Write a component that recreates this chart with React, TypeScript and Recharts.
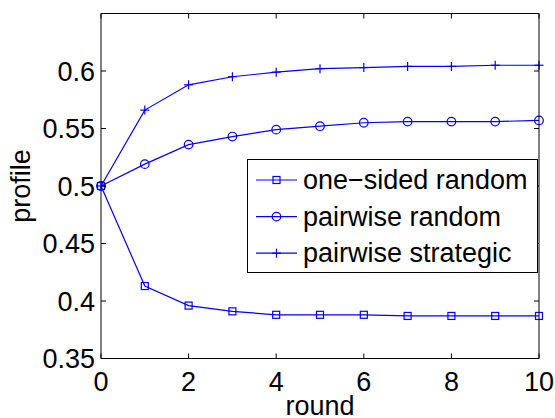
import React from 'react';
import { LineChart, Line, XAxis, YAxis, Legend } from 'recharts';

const rounds = [0, 1, 2, 3, 4, 5, 6, 7, 8, 9, 10];
const oneSidedRandom = [0.5, 0.413, 0.396, 0.391, 0.388, 0.388, 0.388, 0.387, 0.387, 0.387, 0.387];
const pairwiseRandom = [0.5, 0.519, 0.536, 0.543, 0.549, 0.552, 0.555, 0.556, 0.556, 0.556, 0.557];
const pairwiseStrategic = [0.5, 0.566, 0.588, 0.595, 0.599, 0.602, 0.603, 0.604, 0.604, 0.605, 0.605];

const seriesNames = ['one\u2212sided random', 'pairwise random', 'pairwise strategic'];
const xTicks = [0, 2, 4, 6, 8, 10];
const yTicks = [0.35, 0.4, 0.45, 0.5, 0.55, 0.6];
const xDomain = [0, 10];
const yDomain = [0.35, 0.65];
const xLabel = 'round';
const yLabel = 'profile';

const data = rounds.map((r, i) => ({
  round: r,
  oneSided: oneSidedRandom[i],
  pairRandom: pairwiseRandom[i],
  pairStrategic: pairwiseStrategic[i],
}));

const BLUE = '#0000ff';
const FONT = '"Liberation Sans", Arial, Helvetica, sans-serif';
const FS = 27;

// layout
const W = 555;
const H = 418;
const M_TOP = 13.5;
const M_RIGHT = 16;
const Y_AXIS_W = 101;
const X_AXIS_H = 59.5;
const PLOT_L = Y_AXIS_W;
const PLOT_T = M_TOP;
const PLOT_W = W - M_RIGHT - Y_AXIS_W;
const PLOT_H = H - M_TOP - X_AXIS_H;
const PLOT_R = PLOT_L + PLOT_W;
const PLOT_B = PLOT_T + PLOT_H;
const TICK_PX = 5;
const LEG_X = 247;
const LEG_Y = 159;

// same linear mapping as the axes (used only for the box frame tick marks)
const xPos = (v: number) => PLOT_L + ((v - xDomain[0]) / (xDomain[1] - xDomain[0])) * PLOT_W;
const yPos = (v: number) => PLOT_B - ((v - yDomain[0]) / (yDomain[1] - yDomain[0])) * PLOT_H;

type Kind = 'square' | 'circle' | 'plus';

const Marker = ({ kind, cx, cy }: { kind: Kind; cx: number; cy: number }) => {
  if (kind === 'square')
    return <rect x={cx - 3.5} y={cy - 3.5} width={7} height={7} fill="none" stroke={BLUE} strokeWidth={1.2} />;
  if (kind === 'circle')
    return <circle cx={cx} cy={cy} r={4.3} fill="none" stroke={BLUE} strokeWidth={1.2} />;
  return (
    <g stroke={BLUE} strokeWidth={1.2}>
      <line x1={cx - 4.5} y1={cy} x2={cx + 4.5} y2={cy} />
      <line x1={cx} y1={cy - 4.5} x2={cx} y2={cy + 4.5} />
    </g>
  );
};

const makeDot = (kind: Kind) => (props: any) => {
  const { cx, cy, index } = props;
  if (cx == null || cy == null) return <g key={`${kind}-${index}`} />;
  return (
    <g key={`${kind}-${index}`}>
      <Marker kind={kind} cx={cx} cy={cy} />
    </g>
  );
};

const kinds: Kind[] = ['square', 'circle', 'plus'];

// Overlay drawn through the Legend content: axes box (top/right edges), inward ticks, and the legend box
const Overlay = () => (
  <svg width={W} height={H} style={{ display: 'block', pointerEvents: 'none' }}>
    <path
      d={`M${PLOT_L},${PLOT_T}H${PLOT_R}V${PLOT_B}`}
      stroke="#000"
      strokeWidth={1}
      fill="none"
    />
    {xTicks.map((t) => (
      <g key={`xt${t}`} stroke="#000" strokeWidth={1}>
        <line x1={xPos(t)} y1={PLOT_B} x2={xPos(t)} y2={PLOT_B - TICK_PX} />
        <line x1={xPos(t)} y1={PLOT_T} x2={xPos(t)} y2={PLOT_T + TICK_PX} />
      </g>
    ))}
    {yTicks.map((t) => (
      <g key={`yt${t}`} stroke="#000" strokeWidth={1}>
        <line x1={PLOT_L} y1={yPos(t)} x2={PLOT_L + TICK_PX} y2={yPos(t)} />
        <line x1={PLOT_R} y1={yPos(t)} x2={PLOT_R - TICK_PX} y2={yPos(t)} />
      </g>
    ))}
    <g transform={`translate(${LEG_X},${LEG_Y})`}>
      <rect x={0.5} y={0.5} width={290} height={113} fill="#fff" stroke="#000" strokeWidth={1} />
      {seriesNames.map((name, i) => {
        const ly = 21 + i * 36.6;
        return (
          <g key={name}>
            <line x1={9} y1={ly} x2={50} y2={ly} stroke={BLUE} strokeWidth={1.2} />
            <Marker kind={kinds[i]} cx={29.5} cy={ly} />
            <text x={56} y={ly + 9} fontFamily={FONT} fontSize={FS} fill="#000">
              {name}
            </text>
          </g>
        );
      })}
    </g>
  </svg>
);

export default function App() {
  return (
    <div style={{ position: 'absolute', left: 0, top: 0, width: W, height: H, background: '#fff' }}>
      <LineChart
        width={W}
        height={H}
        data={data}
        margin={{ top: M_TOP, right: M_RIGHT, bottom: 0, left: 0 }}
        style={{ fontFamily: FONT }}
      >
        <XAxis
          dataKey="round"
          type="number"
          domain={xDomain}
          ticks={xTicks}
          height={X_AXIS_H}
          stroke="#000"
          tickLine={false}
          tickSize={0}
          tickMargin={13.5}
          tick={{ fill: '#000', fontSize: FS, fontFamily: FONT }}
          label={{ value: xLabel, position: 'insideBottom', offset: 3, fill: '#000', fontSize: FS, fontFamily: FONT }}
        />
        <YAxis
          type="number"
          domain={yDomain}
          ticks={yTicks}
          width={Y_AXIS_W}
          stroke="#000"
          tickLine={false}
          tickSize={0}
          tickMargin={6}
          tick={{ fill: '#000', fontSize: FS, fontFamily: FONT }}
          label={{
            value: yLabel,
            angle: -90,
            position: 'insideLeft',
            offset: 20,
            fill: '#000',
            fontSize: FS,
            fontFamily: FONT,
            style: { textAnchor: 'middle' },
          }}
        />
        <Legend
          layout="vertical"
          align="center"
          verticalAlign="middle"
          content={() => <Overlay />}
          wrapperStyle={{ left: 0, top: 0, width: W, height: H, pointerEvents: 'none' }}
        />
        <Line
          dataKey="oneSided"
          name={seriesNames[0]}
          stroke={BLUE}
          strokeWidth={1.2}
          dot={makeDot('square')}
          activeDot={false}
          isAnimationActive={false}
        />
        <Line
          dataKey="pairRandom"
          name={seriesNames[1]}
          stroke={BLUE}
          strokeWidth={1.2}
          dot={makeDot('circle')}
          activeDot={false}
          isAnimationActive={false}
        />
        <Line
          dataKey="pairStrategic"
          name={seriesNames[2]}
          stroke={BLUE}
          strokeWidth={1.2}
          dot={makeDot('plus')}
          activeDot={false}
          isAnimationActive={false}
        />
      </LineChart>
    </div>
  );
}
